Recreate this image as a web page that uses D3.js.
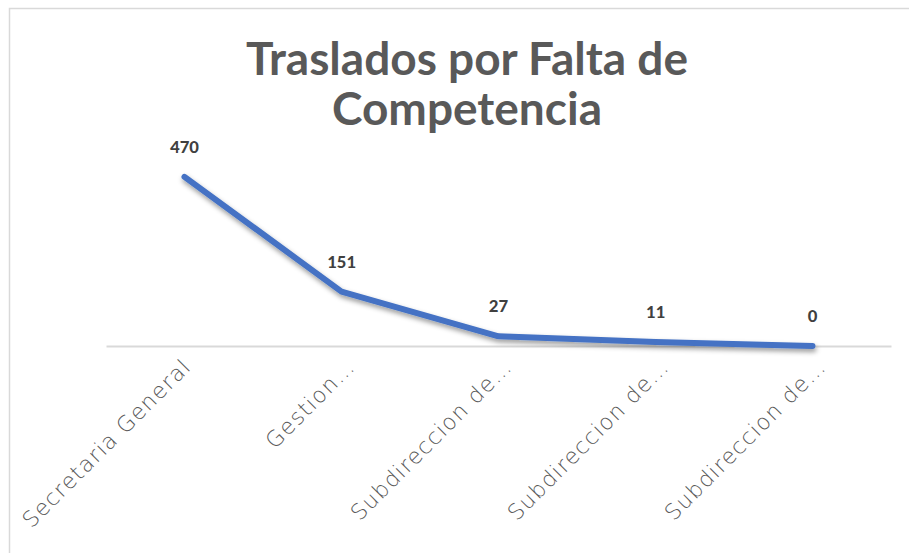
<!DOCTYPE html>
<html>
<head>
<meta charset="utf-8">
<script src="https://cdn.jsdelivr.net/npm/d3@7"></script>
<style>
  html, body { margin: 0; padding: 0; background: #fff; }
  svg { display: block; }
</style>
</head>
<body>
<svg id="chart"></svg>
<script>
const categories = [
  "Secretaria General",
  "Gestion…",
  "Subdireccion de…",
  "Subdireccion de…",
  "Subdireccion de…"
];
const values = [470, 151, 27, 11, 0];
const titleLines = ["Traslados por Falta de", "Competencia"];

const width = 909, height = 553;
const svg = d3.select("svg#chart").attr("width", width).attr("height", height);

// frame of the chart area
svg.append("rect")
  .attr("x", 9.5).attr("y", 8.5)
  .attr("width", width + 20).attr("height", height + 20)
  .attr("fill", "#fff")
  .attr("stroke", "#d9d9d9")
  .attr("stroke-width", 1.5);

const defs = svg.append("defs");
const shadow = defs.append("filter")
  .attr("id", "shadow")
  .attr("x", "-10%").attr("y", "-20%")
  .attr("width", "130%").attr("height", "160%");
shadow.append("feDropShadow")
  .attr("dx", 1).attr("dy", 3)
  .attr("stdDeviation", 2.5)
  .attr("flood-color", "#000")
  .attr("flood-opacity", 0.4);

const x = d3.scaleBand().domain(d3.range(categories.length)).range([106, 891]);
const y = d3.scaleLinear().domain([0, 500]).range([346, 166]);
const cx = i => x(i) + x.bandwidth() / 2;

// title
svg.append("text")
  .attr("text-anchor", "middle")
  .attr("font-family", "Lato, 'Noto Sans', sans-serif")
  .attr("font-weight", 700)
  .attr("font-size", 46)
  .attr("fill", "#595959")
  .selectAll("tspan")
  .data(titleLines)
  .join("tspan")
  .attr("x", 467)
  .attr("y", (d, i) => 75 + i * 50)
  .text(d => d);

// category axis
const axis = svg.append("g")
  .attr("transform", `translate(0,${y(0)})`)
  .call(d3.axisBottom(x).tickSize(0).tickFormat(i => categories[i]));
axis.select(".domain").attr("stroke", "#d9d9d9").attr("stroke-width", 2);
axis.selectAll("text")
  .attr("font-family", "'DejaVu Sans', sans-serif")
  .attr("font-weight", 200)
  .attr("font-size", 22)
  .attr("letter-spacing", 1.2)
  .attr("fill", "#595959")
  .attr("text-anchor", "end")
  .attr("dy", null)
  .attr("y", 0)
  .attr("transform", (d, i) => i === 0 ? "translate(8,22) rotate(-45)" : "translate(15,22) rotate(-45)");

// line
const line = d3.line().x((d, i) => cx(i)).y(d => y(d));
svg.append("path")
  .datum(values)
  .attr("d", line)
  .attr("fill", "none")
  .attr("stroke", "#4472c4")
  .attr("stroke-width", 6)
  .attr("stroke-linecap", "round")
  .attr("stroke-linejoin", "round")
  .attr("filter", "url(#shadow)");

// data labels
svg.append("g")
  .selectAll("text")
  .data(values)
  .join("text")
  .attr("x", (d, i) => cx(i))
  .attr("y", d => y(d) - 24)
  .attr("text-anchor", "middle")
  .attr("font-family", "Calibri, Carlito, 'Open Sans', sans-serif")
  .attr("font-weight", 700)
  .attr("font-size", 19)
  .attr("fill", "#404040")
  .text(d => d);
</script>
</body>
</html>
